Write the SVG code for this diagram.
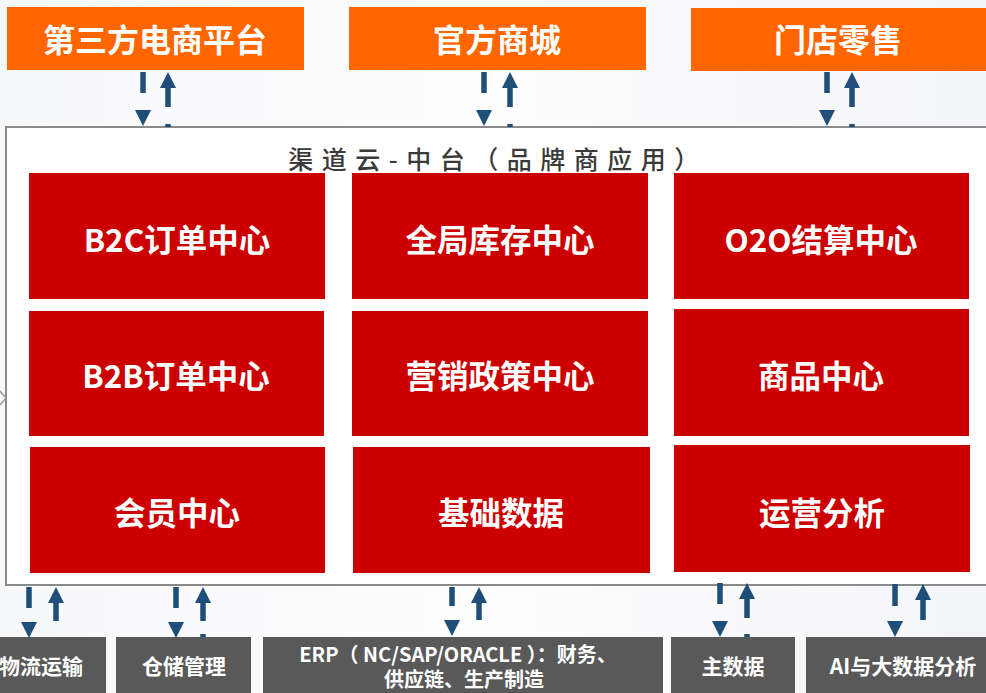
<svg xmlns="http://www.w3.org/2000/svg" width="986" height="693" viewBox="0 0 986 693">
<defs>
<style>
.top{fill:#FF6600}
.red{fill:#CC0000}
.bot{fill:#595959}
.tt{font-family:"Noto Sans CJK SC","Liberation Sans",sans-serif;font-weight:700;fill:#fff;text-anchor:middle;dominant-baseline:central}
.t1{font-size:32px}
.t2{font-size:31.5px}
.t3{font-size:21px}
.t4{font-size:20px}
.title{font-family:"Noto Sans CJK SC","Liberation Serif",serif;font-size:25px;font-weight:500;fill:#3a3a3a;letter-spacing:8.5px;text-anchor:middle;dominant-baseline:central}
.c{fill:none;stroke:#1F4E79;stroke-width:5.5}
</style>
<marker id="ah" viewBox="0 0 16 16" markerWidth="16" markerHeight="16" markerUnits="userSpaceOnUse" refX="0" refY="8" orient="auto"><path d="M0,0 L16,8 L0,16 z" fill="#1F4E79"/></marker>
<linearGradient id="bg" x1="0" y1="0" x2="1" y2="0"><stop offset="0" stop-color="#f7f8fa"/><stop offset="0.5" stop-color="#fdfdfe"/><stop offset="1" stop-color="#f4f5f8"/></linearGradient>
</defs>
<rect width="986" height="693" fill="url(#bg)"/>
<g id="container">
<rect x="6" y="127" width="985" height="458" fill="#fff" stroke="#8a8a8a" stroke-width="2"/>
<text class="title" x="498" y="158">渠道云-中台（品牌商应用）</text>
<path d="M0,391 L6,398 L0,405" fill="none" stroke="#999" stroke-width="1.5"/>
</g>
<g id="n-third"><rect class="top" x="7" y="7" width="297" height="63"/><text class="tt t1" x="155" y="38">第三方电商平台</text></g>
<g id="n-mall"><rect class="top" x="349" y="7" width="297" height="63"/><text class="tt t1" x="497" y="38">官方商城</text></g>
<g id="n-store"><rect class="top" x="691" y="8" width="300" height="63"/><text class="tt t1" x="838" y="38">门店零售</text></g>
<g id="n-b2c"><rect class="red" x="29" y="173" width="296" height="126"/><text class="tt t2" x="177" y="238">B2C订单中心</text></g>
<g id="n-inv"><rect class="red" x="352" y="173" width="296" height="126"/><text class="tt t2" x="500" y="238">全局库存中心</text></g>
<g id="n-o2o"><rect class="red" x="674" y="173" width="295" height="126"/><text class="tt t2" x="821" y="238">O2O结算中心</text></g>
<g id="n-b2b"><rect class="red" x="29" y="311" width="295" height="125"/><text class="tt t2" x="176" y="374">B2B订单中心</text></g>
<g id="n-mkt"><rect class="red" x="352" y="311" width="296" height="125"/><text class="tt t2" x="500" y="374">营销政策中心</text></g>
<g id="n-goods"><rect class="red" x="674" y="309" width="295" height="127"/><text class="tt t2" x="821" y="374">商品中心</text></g>
<g id="n-member"><rect class="red" x="30" y="447" width="295" height="126"/><text class="tt t2" x="177" y="511">会员中心</text></g>
<g id="n-base"><rect class="red" x="353" y="447" width="297" height="126"/><text class="tt t2" x="501" y="511">基础数据</text></g>
<g id="n-ops"><rect class="red" x="674" y="445" width="296" height="127"/><text class="tt t2" x="822" y="511">运营分析</text></g>
<g id="n-logi"><rect class="bot" x="-30" y="637" width="136" height="60"/><text class="tt t3" x="41" y="665">物流运输</text></g>
<g id="n-wms"><rect class="bot" x="116" y="637" width="135" height="60"/><text class="tt t3" x="184" y="665">仓储管理</text></g>
<g id="n-erp"><rect class="bot" x="263" y="637" width="400" height="60"/><text class="tt t4" x="458" y="653">ERP（ NC/SAP/ORACLE ）：财务、</text><text class="tt t4" x="464" y="678">供应链、生产制造</text></g>
<g id="n-mdm"><rect class="bot" x="671" y="637" width="124" height="60"/><text class="tt t3" x="733" y="665">主数据</text></g>
<g id="n-ai"><rect class="bot" x="806" y="637" width="190" height="60"/><text class="tt t3" x="903" y="665">AI与大数据分析</text></g>
<g id="connectors">
<path class="c" d="M143 72 V110" stroke-dasharray="21 17" marker-end="url(#ah)"/>
<path class="c" d="M168 127 V88" stroke-dasharray="3 17 19 100" marker-end="url(#ah)"/>
<path class="c" d="M484 72 V110" stroke-dasharray="21 17" marker-end="url(#ah)"/>
<path class="c" d="M510 127 V88" stroke-dasharray="3 17 19 100" marker-end="url(#ah)"/>
<path class="c" d="M827 72 V110" stroke-dasharray="21 17" marker-end="url(#ah)"/>
<path class="c" d="M852 127 V88" stroke-dasharray="3 17 19 100" marker-end="url(#ah)"/>
<path class="c" d="M29 587 V622" stroke-dasharray="21 14" marker-end="url(#ah)"/>
<path class="c" d="M56 637 V603" stroke-dasharray="0 16 18 100" marker-end="url(#ah)"/>
<path class="c" d="M176 587 V622" stroke-dasharray="21 14" marker-end="url(#ah)"/>
<path class="c" d="M203 637 V603" stroke-dasharray="3 13 18 100" marker-end="url(#ah)"/>
<path class="c" d="M452 587 V620" stroke-dasharray="19 14" marker-end="url(#ah)"/>
<path class="c" d="M479 636 V603" stroke-dasharray="0 16 17 100" marker-end="url(#ah)"/>
<path class="c" d="M720 583 V621" stroke-dasharray="21 17" marker-end="url(#ah)"/>
<path class="c" d="M747 637 V599" stroke-dasharray="3 16 19 100" marker-end="url(#ah)"/>
<path class="c" d="M895 584 V621" stroke-dasharray="22 15" marker-end="url(#ah)"/>
<path class="c" d="M923 636 V600" stroke-dasharray="0 16 20 100" marker-end="url(#ah)"/>
</g>
</svg>
